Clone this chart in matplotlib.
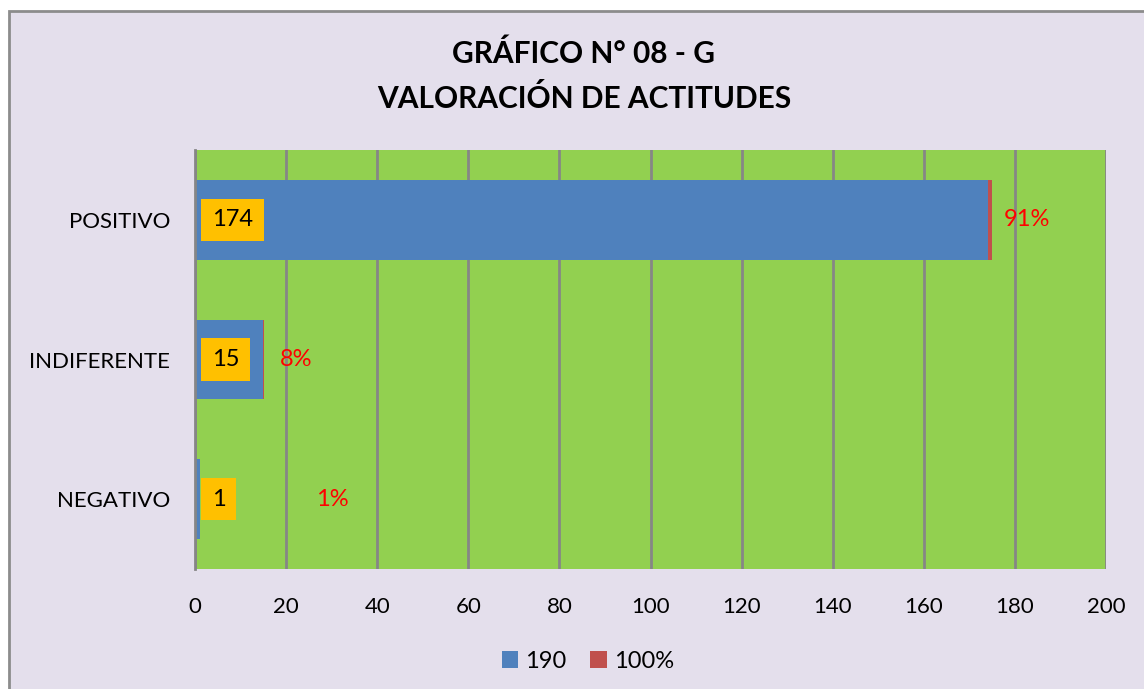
import matplotlib.pyplot as plt
from matplotlib.patches import Rectangle

categories = ['NEGATIVO', 'INDIFERENTE', 'POSITIVO']
counts = [1, 15, 174]
shares = [0.01, 0.08, 0.91]
share_labels = ['1%', '8%', '91%']
share_label_x = [26.6, 18.7, 177.6]
legend_labels = ['190', '100%']

plt.rcParams['font.family'] = ['Lato', 'DejaVu Sans']

fig = plt.figure(figsize=(11.44, 6.89), dpi=100, facecolor='white')

# chart frame
frame = Rectangle((9 / 1144, -0.1), 1.2, 1.1 - 11 / 689,
                  transform=fig.transFigure, facecolor='#E4DFEC',
                  edgecolor='#8C8C8C', linewidth=2, zorder=-10)
fig.patches.append(frame)

ax = fig.add_axes([195 / 1144, 1 - 569 / 689, 911 / 1144, 419 / 689])
ax.set_zorder(2)
ax.set_facecolor('#92D050')

y = range(len(categories))
ax.barh(y, counts, height=0.57, color='#4F81BD', label=legend_labels[0], zorder=2)
ax.barh(y, shares, left=counts, height=0.57, color='#C0504D', label=legend_labels[1], zorder=2)

for i, c in enumerate(counts):
    ax.annotate(str(c), (0, i), xytext=(17, 0), textcoords='offset pixels',
                ha='left', va='center', fontsize=17, color='black', zorder=4,
                bbox=dict(boxstyle='square,pad=0.45', facecolor='#FFC000', edgecolor='none'))
    ax.text(share_label_x[i], i, share_labels[i], ha='left', va='center',
            fontsize=17, color='#FF0000', zorder=4)

ax.set_xlim(0, 200)
ax.set_ylim(-0.5, 2.5)
ax.set_xticks(range(0, 201, 20))
ax.set_yticks(list(y))
ax.set_yticklabels(categories)
ax.tick_params(length=0, labelsize=16)
ax.tick_params(axis='y', pad=18)
ax.tick_params(axis='x', pad=20)
ax.grid(axis='x', color='#868686', linewidth=2, zorder=1)
ax.set_axisbelow(True)
for s in ['top', 'right', 'bottom']:
    ax.spines[s].set_visible(False)
ax.spines['left'].set_color('#868686')
ax.spines['left'].set_linewidth(2)

fig.text(584 / 1144, 1 - 54 / 689, 'GRÁFICO N° 08 - G', ha='center', va='center',
         fontsize=21.5, fontweight='bold')
fig.text(584 / 1144, 1 - 99 / 689, 'VALORACIÓN DE ACTITUDES', ha='center', va='center',
         fontsize=21.5, fontweight='bold')

fig.legend(loc='center', bbox_to_anchor=(588 / 1144, 1 - 661 / 689), ncol=2,
           frameon=False, fontsize=17, handlelength=0.7, handleheight=0.7,
           handletextpad=0.3, columnspacing=1.0)

fig.savefig('out.png', dpi=100, facecolor=fig.get_facecolor())
